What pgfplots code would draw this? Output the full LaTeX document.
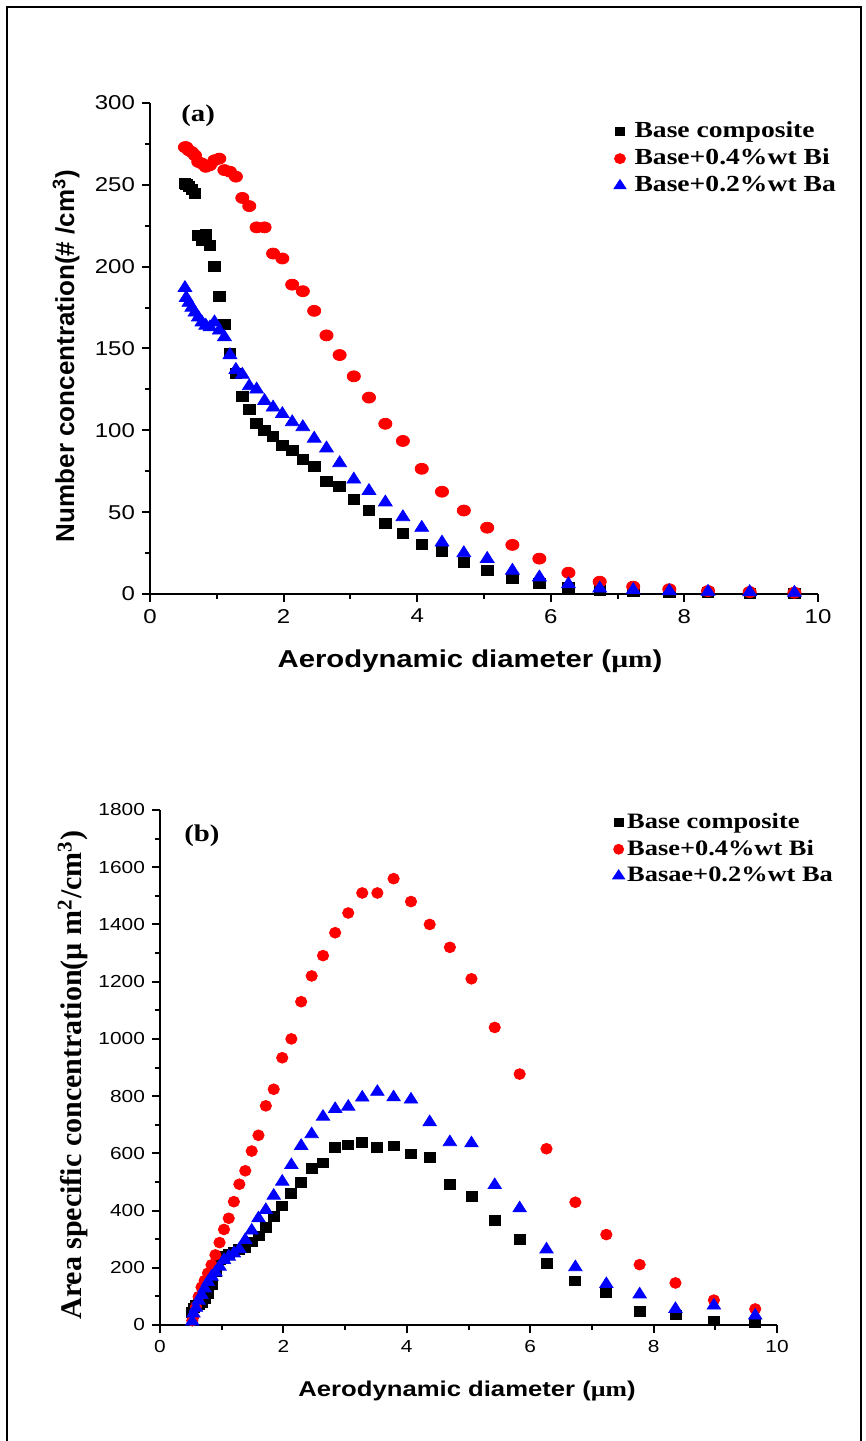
\documentclass[border=0pt]{standalone}
\usepackage{fontspec}
\usepackage{pgfplots}
\usepackage{pgfplotstable}
\pgfplotsset{compat=1.18}
\setmainfont{Liberation Sans}
\newfontfamily\arialS[FakeStretch=1.2]{Liberation Sans}
\newfontfamily\arialN{Liberation Sans}
\newfontfamily\timesS[FakeStretch=1.2]{Liberation Serif}
\newfontfamily\timesN{Liberation Serif}

\pgfplotstableread{
x blk red blu
0.523 251 273 187
0.542 250 273 181
0.583 249 271 178
0.626 247 270 175
0.673 245 268 172
0.723 219 264 169
0.777 216 263 166
0.835 220 261 164
0.898 213 262 163
0.965 200 265 166
1.037 182 266 161
1.114 165 259 157
1.197 147 258 146
1.286 135 255 137
1.382 121 242 134
1.486 113 237 127
1.596 104 224 125
1.715 100 224 118
1.843 96 208 114
1.981 91 205 110
2.129 87.5 189 105
2.288 82 185 102
2.458 78 173 95
2.642 69 158 89
2.839 66 146 80
3.051 57.5 133 70
3.278 51 120 63
3.523 43 104 56
3.786 37 93.5 47
4.068 30.5 76.5 40.5
4.371 26 62.5 31.5
4.698 19 51 25
5.048 14.7 40.5 21.5
5.425 9.6 30 14.3
5.829 6.5 21.6 10.2
6.264 4 13 6
6.732 2.4 7.5 3.4
7.234 1.5 4.5 2.5
7.774 1 2.9 1.8
8.354 0.7 1.8 1.4
8.977 0.5 1.2 1.2
9.647 0.3 0.8 0.8
}\dataA

\pgfplotstableread{
x blk red blu
0.523 45 15 12
0.542 60 29 40
0.583 68 64 60
0.626 73 99 85
0.673 80 132 105
0.723 93 155 128
0.777 110 181 150
0.835 140 210 169
0.898 185 245 184
0.965 228 288 204
1.037 240 334 227
1.114 248 373 239
1.197 256 431 250
1.286 265 492 265
1.382 270 539 297
1.486 291 608 330
1.596 311 663 373
1.715 341 766 402
1.843 379 824 452
1.981 416 934 501
2.129 460 1000 559
2.288 499 1130 626
2.458 548 1220 667
2.642 567 1291 728
2.839 621 1371 755
3.051 629 1440 763
3.278 638 1510 795
3.523 621 1510 815
3.786 626 1560 796
4.068 598 1480 788
4.371 586 1400 709
4.698 492 1320 639
5.048 449 1210 635
5.425 365 1040 489
5.829 299 877 408
6.264 216 616 264
6.732 154 429 202
7.234 113 316 143
7.774 47 211 107
8.354 35 147 56
8.977 15 87 68
9.647 8 56 33
}\dataB

\pgfplotsset{
  myax/.style={
    scale only axis,
    axis x line*=bottom, axis y line*=left,
    tick align=outside,
    xmin=0, xmax=10, xtick={0,2,...,10},
    minor x tick num=1, minor y tick num=1,
    clip=false,
    axis line style={line width=1pt},
    every tick/.style={black, line width=1pt},
    major tick length=4pt, minor tick length=2.5pt,
    /pgf/number format/assume math mode=true,
    /pgf/number format/1000 sep={},
    legend cell align=left,
    legend image code/.code={\draw[##1] plot coordinates {(0pt,0pt)};},
  },
  sqA/.style={only marks, mark=square*, black, mark size=2.5pt, mark options={xscale=1.15, solid, fill=black}},
  ciA/.style={only marks, mark=*, red, mark size=2.75pt, mark options={xscale=1.2, solid, fill=red, draw=red}},
  trA/.style={only marks, mark=triangle*, blue, mark size=3.6pt, mark options={xscale=1.1, solid, fill=blue, draw=blue}},
}

\begin{document}
\begin{tikzpicture}
\useasboundingbox (0,0) rectangle (433pt,720.5pt);
\draw[line width=1pt] (3.5pt,0) -- (3.5pt,717pt) -- (430.5pt,717pt) -- (430.5pt,0);

% ---------- panel (a)
\begin{axis}[myax,
  at={(75pt,423.5pt)}, anchor=south west,
  width=334pt, height=245.5pt,
  ymin=0, ymax=300, ytick={0,50,...,300},
  tick label style={font=\arialS\fontsize{10}{12}\selectfont},
  xlabel={Aerodynamic diameter ({\timesS µm})},
  xlabel style={at={(axis description cs:0.479,-0.1365)}, anchor=center, font=\arialS\bfseries\fontsize{12.2}{14}\selectfont},
  ylabel={Number concentration(\# /cm\textsuperscript{3})},
  ylabel style={at={(axis description cs:-0.1257,0.485)}, anchor=center, font=\arialN\bfseries\fontsize{13}{15}\selectfont},
  legend style={draw=none, fill=none, at={(axis description cs:0.694,0.97)}, anchor=north west,
    font=\timesS\bfseries\fontsize{11.5}{13}\selectfont, row sep=0pt, inner sep=0pt,
    nodes={inner sep=0.3pt, text height=9.6pt, text depth=3.3pt}},
  /tikz/every odd column/.append style={column sep=4pt},
]
\addplot[sqA, forget plot] table[x=x, y=blk] {\dataA};
\addplot[ciA, forget plot] table[x=x, y=red] {\dataA};
\addplot[trA, forget plot] table[x=x, y=blu] {\dataA};
\addlegendimage{only marks, mark=square*, black, mark size=2.1pt, mark options={xscale=1.15}}
\addlegendentry{Base composite}
\addlegendimage{only marks, mark=*, red, mark size=2.5pt, mark options={xscale=1.1}}
\addlegendentry{Base+0.4\%wt Bi}
\addlegendimage{only marks, mark=triangle*, blue, mark size=3pt, mark options={xscale=1.15}}
\addlegendentry{Base+0.2\%wt Ba}
\node[font=\timesS\bfseries\fontsize{12}{14}\selectfont] at (rel axis cs:0.072,0.975) {(a)};
\end{axis}

% ---------- panel (b)
\begin{axis}[myax,
  at={(80pt,58pt)}, anchor=south west,
  width=308.5pt, height=257.5pt,
  ymin=0, ymax=1800, ytick={0,200,...,1800},
  tick label style={font=\arialS\fontsize{8.7}{10}\selectfont},
  xlabel={Aerodynamic diameter ({\timesS µm})},
  xlabel style={at={(axis description cs:0.4976,-0.128)}, anchor=center, font=\arialS\bfseries\fontsize{10.7}{13}\selectfont},
  ylabel={Area specific concentration(µ m\textsuperscript{2}/cm\textsuperscript{3})},
  ylabel style={at={(axis description cs:-0.141,0.485)}, anchor=center, font=\timesN\bfseries\fontsize{15}{17}\selectfont},
  legend style={draw=none, fill=none, at={(axis description cs:0.733,1.002)}, anchor=north west,
    font=\timesS\bfseries\fontsize{11}{13}\selectfont, row sep=0pt, inner sep=0pt,
    nodes={inner sep=0.3pt, text height=9.4pt, text depth=3.3pt}},
  /tikz/every odd column/.append style={column sep=1pt},
]
\addplot[sqA, forget plot, mark size=2.4pt] table[x=x, y=blk] {\dataB};
\addplot[ciA, forget plot, mark size=2.7pt, mark options={xscale=1.05}] table[x=x, y=red] {\dataB};
\addplot[trA, forget plot, mark size=3.5pt] table[x=x, y=blu] {\dataB};
\addlegendimage{only marks, mark=square*, black, mark size=2pt, mark options={xscale=1.1}}
\addlegendentry{Base composite}
\addlegendimage{only marks, mark=*, red, mark size=2.5pt}
\addlegendentry{Base+0.4\%wt Bi}
\addlegendimage{only marks, mark=triangle*, blue, mark size=3pt, mark options={xscale=1.15}}
\addlegendentry{Basae+0.2\%wt Ba}
\node[font=\timesS\bfseries\fontsize{12}{14}\selectfont] at (rel axis cs:0.068,0.950) {(b)};
\end{axis}
\end{tikzpicture}
\end{document}
